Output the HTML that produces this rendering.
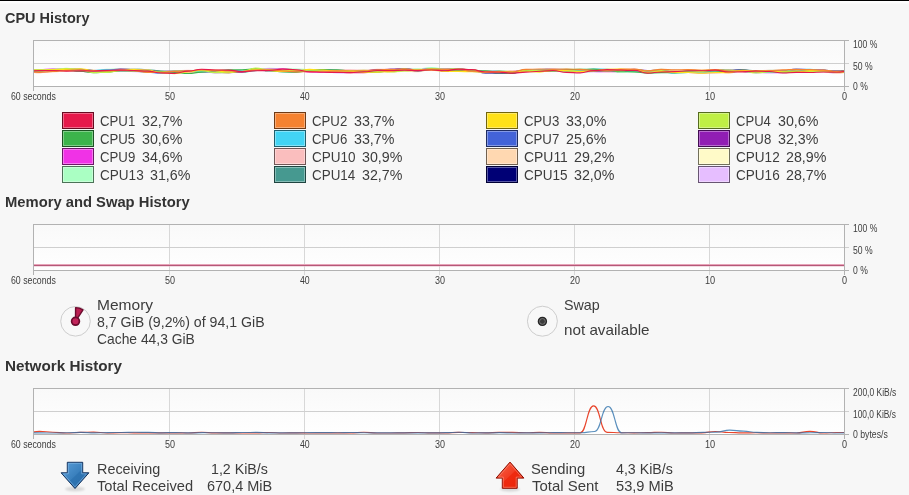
<!DOCTYPE html>
<html><head><meta charset="utf-8"><title>System Monitor</title>
<style>
html,body{margin:0;padding:0}
body{width:909px;height:495px;background:#f7f7f7;position:relative;overflow:hidden;font-family:"Liberation Sans", sans-serif;color:#3b3b3b}
div{box-sizing:border-box}
.x,.sw,.gbg,.hl,.vl{position:absolute;white-space:nowrap}
.x{line-height:20px;transform-origin:0 0}
#tx{position:absolute;left:0;top:0;width:909px;height:495px;will-change:transform}
.h{font-weight:bold;font-size:14.4px;color:#333}
.t{font-size:14.4px;color:#3d3d3d}
.s{font-size:10.0px;color:#3d3d3d}
.topbar{position:absolute;left:0;top:0;width:909px;height:1px;background:#000}
.topw{position:absolute;left:0;top:1px;width:909px;height:3px;background:linear-gradient(#fff,#fff 34%,#fbfbfb 66%,#f8f8f8)}
.sw{width:32px;height:17px;border:1px solid #55545a;box-shadow:inset 0 0 0 1px rgba(255,255,255,.35)}
.gbg{background:linear-gradient(#f9f9f9,#ffffff)}
.hl{height:1px;background:#b2b2b2}
.vl{width:1px;background:#b2b2b2}
.vl.in{background:#d8d8d8}
.hl.in{background:#cfcfcf}
svg{position:absolute;left:0;top:0}
svg path.l,g.l path{fill:none;stroke-width:1.15;stroke-linejoin:round;stroke-linecap:butt}
</style></head><body>
<div class="topbar"></div><div class="topw"></div>
<div class="gbg" style="left:33px;top:40px;width:812px;height:47px"></div>
<div class="vl in" style="left:169px;top:40px;height:51px"></div>
<div class="vl in" style="left:304px;top:40px;height:51px"></div>
<div class="vl in" style="left:439px;top:40px;height:51px"></div>
<div class="vl in" style="left:574px;top:40px;height:51px"></div>
<div class="vl in" style="left:709px;top:40px;height:51px"></div>
<div class="hl in" style="left:33px;top:63px;width:816px"></div>
<div class="hl" style="left:33px;top:40px;width:816px"></div>
<div class="hl" style="left:33px;top:86px;width:816px"></div>
<div class="vl" style="left:33px;top:40px;height:51px"></div>
<div class="vl" style="left:844px;top:40px;height:51px"></div>
<div class="gbg" style="left:33px;top:224px;width:812px;height:47px"></div>
<div class="vl in" style="left:169px;top:224px;height:51px"></div>
<div class="vl in" style="left:304px;top:224px;height:51px"></div>
<div class="vl in" style="left:439px;top:224px;height:51px"></div>
<div class="vl in" style="left:574px;top:224px;height:51px"></div>
<div class="vl in" style="left:709px;top:224px;height:51px"></div>
<div class="hl in" style="left:33px;top:247px;width:816px"></div>
<div class="hl" style="left:33px;top:224px;width:816px"></div>
<div class="hl" style="left:33px;top:270px;width:816px"></div>
<div class="vl" style="left:33px;top:224px;height:51px"></div>
<div class="vl" style="left:844px;top:224px;height:51px"></div>
<div class="gbg" style="left:33px;top:388px;width:812px;height:47px"></div>
<div class="vl in" style="left:169px;top:388px;height:51px"></div>
<div class="vl in" style="left:304px;top:388px;height:51px"></div>
<div class="vl in" style="left:439px;top:388px;height:51px"></div>
<div class="vl in" style="left:574px;top:388px;height:51px"></div>
<div class="vl in" style="left:709px;top:388px;height:51px"></div>
<div class="hl in" style="left:33px;top:411px;width:816px"></div>
<div class="hl" style="left:33px;top:388px;width:816px"></div>
<div class="hl" style="left:33px;top:434px;width:816px"></div>
<div class="vl" style="left:33px;top:388px;height:51px"></div>
<div class="vl" style="left:844px;top:388px;height:51px"></div>
<div class="sw" style="left:62px;top:112px;background:#e6194b;border-color:#670b21"></div>
<div class="sw" style="left:274px;top:112px;background:#f58231;border-color:#6e3a16"></div>
<div class="sw" style="left:486px;top:112px;background:#ffe119;border-color:#72650b"></div>
<div class="sw" style="left:698px;top:112px;background:#bfef45;border-color:#556b1f"></div>
<div class="sw" style="left:62px;top:130px;background:#3cb44b;border-color:#1b5121"></div>
<div class="sw" style="left:274px;top:130px;background:#42d4f4;border-color:#1d5f6d"></div>
<div class="sw" style="left:486px;top:130px;background:#4363d8;border-color:#1e2c61"></div>
<div class="sw" style="left:698px;top:130px;background:#911eb4;border-color:#410d51"></div>
<div class="sw" style="left:62px;top:148px;background:#f032e6;border-color:#6c1667"></div>
<div class="sw" style="left:274px;top:148px;background:#fabebe;border-color:#705555"></div>
<div class="sw" style="left:486px;top:148px;background:#ffd8b1;border-color:#72614f"></div>
<div class="sw" style="left:698px;top:148px;background:#fffac8;border-color:#72705a"></div>
<div class="sw" style="left:62px;top:166px;background:#aaffc3;border-color:#4c7257"></div>
<div class="sw" style="left:274px;top:166px;background:#469990;border-color:#1f4440"></div>
<div class="sw" style="left:486px;top:166px;background:#000075;border-color:#000034"></div>
<div class="sw" style="left:698px;top:166px;background:#e6beff;border-color:#675572"></div>
<div id="tx">
<div class="x h" style="left:5.04px;top:7.80px;transform:scaleX(1.0058)">CPU History</div>
<div class="x h" style="left:4.75px;top:192.00px;transform:scaleX(1.0260)">Memory and Swap History</div>
<div class="x h" style="left:4.72px;top:356.00px;transform:scaleX(1.0600)">Network History</div>
<div class="x t" style="left:99.90px;top:110.82px;transform:scaleX(0.9178)">CPU1</div>
<div class="x t" style="left:141.79px;top:110.82px;transform:scaleX(0.9891)">32,7%</div>
<div class="x t" style="left:311.90px;top:110.82px;transform:scaleX(0.9178)">CPU2</div>
<div class="x t" style="left:353.79px;top:110.82px;transform:scaleX(0.9891)">33,7%</div>
<div class="x t" style="left:523.90px;top:110.82px;transform:scaleX(0.9176)">CPU3</div>
<div class="x t" style="left:565.79px;top:110.82px;transform:scaleX(0.9891)">33,0%</div>
<div class="x t" style="left:735.91px;top:110.82px;transform:scaleX(0.9079)">CPU4</div>
<div class="x t" style="left:777.79px;top:110.82px;transform:scaleX(0.9891)">30,6%</div>
<div class="x t" style="left:99.90px;top:128.82px;transform:scaleX(0.9169)">CPU5</div>
<div class="x t" style="left:141.79px;top:128.82px;transform:scaleX(0.9891)">30,6%</div>
<div class="x t" style="left:311.90px;top:128.82px;transform:scaleX(0.9177)">CPU6</div>
<div class="x t" style="left:353.79px;top:128.82px;transform:scaleX(0.9891)">33,7%</div>
<div class="x t" style="left:523.90px;top:128.82px;transform:scaleX(0.9178)">CPU7</div>
<div class="x t" style="left:565.79px;top:128.82px;transform:scaleX(0.9890)">25,6%</div>
<div class="x t" style="left:735.90px;top:128.82px;transform:scaleX(0.9176)">CPU8</div>
<div class="x t" style="left:777.79px;top:128.82px;transform:scaleX(0.9891)">32,3%</div>
<div class="x t" style="left:99.90px;top:146.82px;transform:scaleX(0.9175)">CPU9</div>
<div class="x t" style="left:141.79px;top:146.82px;transform:scaleX(0.9891)">34,6%</div>
<div class="x t" style="left:311.88px;top:146.82px;transform:scaleX(0.9407)">CPU10</div>
<div class="x t" style="left:362.09px;top:146.82px;transform:scaleX(0.9891)">30,9%</div>
<div class="x t" style="left:523.86px;top:146.82px;transform:scaleX(0.9670)">CPU11</div>
<div class="x t" style="left:574.09px;top:146.82px;transform:scaleX(0.9890)">29,2%</div>
<div class="x t" style="left:735.88px;top:146.82px;transform:scaleX(0.9412)">CPU12</div>
<div class="x t" style="left:786.09px;top:146.82px;transform:scaleX(0.9890)">28,9%</div>
<div class="x t" style="left:99.88px;top:164.82px;transform:scaleX(0.9411)">CPU13</div>
<div class="x t" style="left:150.09px;top:164.82px;transform:scaleX(0.9891)">31,6%</div>
<div class="x t" style="left:311.89px;top:164.82px;transform:scaleX(0.9329)">CPU14</div>
<div class="x t" style="left:362.09px;top:164.82px;transform:scaleX(0.9891)">32,7%</div>
<div class="x t" style="left:523.88px;top:164.82px;transform:scaleX(0.9405)">CPU15</div>
<div class="x t" style="left:574.09px;top:164.82px;transform:scaleX(0.9891)">32,0%</div>
<div class="x t" style="left:735.88px;top:164.82px;transform:scaleX(0.9412)">CPU16</div>
<div class="x t" style="left:786.09px;top:164.82px;transform:scaleX(0.9890)">28,7%</div>
<div class="x t" style="left:97.23px;top:295.12px;transform:scaleX(1.0793)">Memory</div>
<div class="x t" style="left:97.03px;top:312.32px;transform:scaleX(0.9838)">8,7 GiB (9,2%) of 94,1 GiB</div>
<div class="x t" style="left:96.96px;top:329.22px;transform:scaleX(0.9627)">Cache 44,3 GiB</div>
<div class="x t" style="left:563.96px;top:295.12px;transform:scaleX(0.9942)">Swap</div>
<div class="x t" style="left:563.61px;top:320.02px;transform:scaleX(1.0583)">not available</div>
<div class="x t" style="left:96.63px;top:458.72px;transform:scaleX(0.9996)">Receiving</div>
<div class="x t" style="left:97.11px;top:476.22px;transform:scaleX(1.0179)">Total Received</div>
<div class="x t" style="left:211.12px;top:458.72px;transform:scaleX(0.9882)">1,2 KiB/s</div>
<div class="x t" style="left:206.75px;top:476.22px;transform:scaleX(1.0072)">670,4 MiB</div>
<div class="x t" style="left:531.32px;top:458.72px;transform:scaleX(1.0285)">Sending</div>
<div class="x t" style="left:531.90px;top:476.22px;transform:scaleX(1.0390)">Total Sent</div>
<div class="x t" style="left:616.42px;top:458.72px;transform:scaleX(0.9882)">4,3 KiB/s</div>
<div class="x t" style="left:615.96px;top:476.22px;transform:scaleX(1.0152)">53,9 MiB</div>
<div class="x s" style="left:11.39px;top:87.32px;transform:scaleX(0.8764)">60 seconds</div>
<div class="x s" style="left:164.82px;top:87.32px;transform:scaleX(0.9011)">50</div>
<div class="x s" style="left:300.12px;top:87.32px;transform:scaleX(0.8730)">40</div>
<div class="x s" style="left:434.85px;top:87.32px;transform:scaleX(0.8986)">30</div>
<div class="x s" style="left:569.89px;top:87.32px;transform:scaleX(0.8951)">20</div>
<div class="x s" style="left:704.64px;top:87.32px;transform:scaleX(0.9187)">10</div>
<div class="x s" style="left:841.84px;top:87.32px;transform:scaleX(0.9062)">0</div>
<div class="x s" style="left:11.39px;top:271.32px;transform:scaleX(0.8764)">60 seconds</div>
<div class="x s" style="left:164.82px;top:271.32px;transform:scaleX(0.9011)">50</div>
<div class="x s" style="left:300.12px;top:271.32px;transform:scaleX(0.8730)">40</div>
<div class="x s" style="left:434.85px;top:271.32px;transform:scaleX(0.8986)">30</div>
<div class="x s" style="left:569.89px;top:271.32px;transform:scaleX(0.8951)">20</div>
<div class="x s" style="left:704.64px;top:271.32px;transform:scaleX(0.9187)">10</div>
<div class="x s" style="left:841.84px;top:271.32px;transform:scaleX(0.9062)">0</div>
<div class="x s" style="left:11.39px;top:435.32px;transform:scaleX(0.8764)">60 seconds</div>
<div class="x s" style="left:164.82px;top:435.32px;transform:scaleX(0.9011)">50</div>
<div class="x s" style="left:300.12px;top:435.32px;transform:scaleX(0.8730)">40</div>
<div class="x s" style="left:434.85px;top:435.32px;transform:scaleX(0.8986)">30</div>
<div class="x s" style="left:569.89px;top:435.32px;transform:scaleX(0.8951)">20</div>
<div class="x s" style="left:704.64px;top:435.32px;transform:scaleX(0.9187)">10</div>
<div class="x s" style="left:841.84px;top:435.32px;transform:scaleX(0.9062)">0</div>
<div class="x s" style="left:852.69px;top:35.22px;transform:scaleX(0.8594)">100 %</div>
<div class="x s" style="left:852.65px;top:57.32px;transform:scaleX(0.8604)">50 %</div>
<div class="x s" style="left:852.76px;top:77.32px;transform:scaleX(0.8577)">0 %</div>
<div class="x s" style="left:852.69px;top:219.22px;transform:scaleX(0.8594)">100 %</div>
<div class="x s" style="left:852.65px;top:241.32px;transform:scaleX(0.8604)">50 %</div>
<div class="x s" style="left:852.76px;top:261.32px;transform:scaleX(0.8577)">0 %</div>
<div class="x s" style="left:852.72px;top:383.22px;transform:scaleX(0.8463)">200,0 KiB/s</div>
<div class="x s" style="left:853.10px;top:405.32px;transform:scaleX(0.8386)">100,0 KiB/s</div>
<div class="x s" style="left:852.76px;top:425.32px;transform:scaleX(0.8702)">0 bytes/s</div>
</div>
<svg width="909" height="495" viewBox="0 0 909 495">
<defs>
<filter id="bl" x="-50%" y="-200%" width="200%" height="500%"><feGaussianBlur stdDeviation="1.2"/></filter>
<linearGradient id="gb" x1="0" y1="0" x2="1" y2="1"><stop offset="0" stop-color="#5b9fda"/><stop offset=".5" stop-color="#3a80bd"/><stop offset=".52" stop-color="#2f75b3"/><stop offset="1" stop-color="#2b6ca8"/></linearGradient>
<linearGradient id="gr" x1="0" y1="0" x2="1" y2="1"><stop offset="0" stop-color="#f8674e"/><stop offset=".5" stop-color="#f23c22"/><stop offset=".52" stop-color="#ef2a0f"/><stop offset="1" stop-color="#ea2408"/></linearGradient>
<clipPath id="c1"><rect x="34" y="41" width="810" height="45"/></clipPath>
<clipPath id="c3"><rect x="34" y="389" width="810" height="46"/></clipPath>
</defs>
<g class="l" clip-path="url(#c1)">
<path d="M12.4 70.56C19.1 70.56 19.1 71.44 25.9 71.44C32.6 71.44 32.6 71.55 39.4 71.55C46.2 71.55 46.2 70.64 52.9 70.64C59.7 70.64 59.7 69.85 66.4 69.85C73.2 69.85 73.2 69.55 79.9 69.55C86.7 69.55 86.7 70.26 93.5 70.26C100.2 70.26 100.2 70.41 107.0 70.41C113.7 70.41 113.7 70.90 120.5 70.90C127.3 70.90 127.3 71.58 134.0 71.58C140.8 71.58 140.8 72.28 147.5 72.28C154.3 72.28 154.3 73.33 161.0 73.33C167.8 73.33 167.8 73.24 174.6 73.24C181.3 73.24 181.3 72.65 188.1 72.65C194.8 72.65 194.8 71.62 201.6 71.62C208.4 71.62 208.4 72.95 215.1 72.95C221.9 72.95 221.9 73.11 228.6 73.11C235.4 73.11 235.4 71.49 242.1 71.49C248.9 71.49 248.9 69.74 255.7 69.74C262.4 69.74 262.4 71.22 269.2 71.22C275.9 71.22 275.9 71.49 282.7 71.49C289.5 71.49 289.5 71.78 296.2 71.78C303.0 71.78 303.0 71.19 309.7 71.19C316.5 71.19 316.5 70.91 323.2 70.91C330.0 70.91 330.0 72.81 336.8 72.81C343.5 72.81 343.5 73.33 350.3 73.33C357.0 73.33 357.0 72.60 363.8 72.60C370.6 72.60 370.6 71.16 377.3 71.16C384.1 71.16 384.1 70.36 390.8 70.36C397.6 70.36 397.6 68.90 404.3 68.90C411.1 68.90 411.1 70.04 417.9 70.04C424.6 70.04 424.6 69.95 431.4 69.95C438.1 69.95 438.1 71.18 444.9 71.18C451.7 71.18 451.7 70.63 458.4 70.63C465.2 70.63 465.2 71.20 471.9 71.20C478.7 71.20 478.7 72.72 485.4 72.72C492.2 72.72 492.2 72.42 499.0 72.42C505.7 72.42 505.7 73.27 512.5 73.27C519.2 73.27 519.2 71.48 526.0 71.48C532.8 71.48 532.8 69.90 539.5 69.90C546.3 69.90 546.3 68.57 553.0 68.57C559.8 68.57 559.8 69.60 566.5 69.60C573.3 69.60 573.3 71.17 580.1 71.17C586.8 71.17 586.8 71.89 593.6 71.89C600.3 71.89 600.3 71.48 607.1 71.48C613.9 71.48 613.9 70.31 620.6 70.31C627.4 70.31 627.4 70.02 634.1 70.02C640.9 70.02 640.9 71.87 647.6 71.87C654.4 71.87 654.4 70.24 661.2 70.24C667.9 70.24 667.9 70.04 674.7 70.04C681.4 70.04 681.4 71.38 688.2 71.38C695.0 71.38 695.0 73.14 701.7 73.14C708.5 73.14 708.5 72.10 715.2 72.10C722.0 72.10 722.0 70.81 728.8 70.81C735.5 70.81 735.5 70.27 742.3 70.27C749.0 70.27 749.0 72.54 755.8 72.54C762.5 72.54 762.5 73.19 769.3 73.19C776.1 73.19 776.1 72.98 782.8 72.98C789.6 72.98 789.6 71.53 796.3 71.53C803.1 71.53 803.1 71.96 809.9 71.96C816.6 71.96 816.6 72.02 823.4 72.02C830.1 72.02 830.1 73.15 836.9 73.15C843.6 73.15 843.6 71.43 850.4 71.43C857.2 71.43 857.2 70.34 863.9 70.34" stroke="#e6beff"/>
<path d="M12.4 70.67C19.1 70.67 19.1 71.67 25.9 71.67C32.6 71.67 32.6 71.99 39.4 71.99C46.2 71.99 46.2 70.15 52.9 70.15C59.7 70.15 59.7 68.94 66.4 68.94C73.2 68.94 73.2 69.39 79.9 69.39C86.7 69.39 86.7 70.49 93.5 70.49C100.2 70.49 100.2 70.45 107.0 70.45C113.7 70.45 113.7 70.21 120.5 70.21C127.3 70.21 127.3 70.10 134.0 70.10C140.8 70.10 140.8 71.16 147.5 71.16C154.3 71.16 154.3 72.14 161.0 72.14C167.8 72.14 167.8 71.86 174.6 71.86C181.3 71.86 181.3 71.91 188.1 71.91C194.8 71.91 194.8 71.64 201.6 71.64C208.4 71.64 208.4 72.33 215.1 72.33C221.9 72.33 221.9 71.45 228.6 71.45C235.4 71.45 235.4 70.56 242.1 70.56C248.9 70.56 248.9 69.13 255.7 69.13C262.4 69.13 262.4 70.78 269.2 70.78C275.9 70.78 275.9 71.20 282.7 71.20C289.5 71.20 289.5 70.85 296.2 70.85C303.0 70.85 303.0 69.73 309.7 69.73C316.5 69.73 316.5 69.74 323.2 69.74C330.0 69.74 330.0 70.88 336.8 70.88C343.5 70.88 343.5 72.53 350.3 72.53C357.0 72.53 357.0 72.50 363.8 72.50C370.6 72.50 370.6 71.15 377.3 71.15C384.1 71.15 384.1 69.40 390.8 69.40C397.6 69.40 397.6 68.67 404.3 68.67C411.1 68.67 411.1 70.60 417.9 70.60C424.6 70.60 424.6 69.40 431.4 69.40C438.1 69.40 438.1 69.06 444.9 69.06C451.7 69.06 451.7 68.79 458.4 68.79C465.2 68.79 465.2 70.48 471.9 70.48C478.7 70.48 478.7 72.83 485.4 72.83C492.2 72.83 492.2 73.16 499.0 73.16C505.7 73.16 505.7 73.30 512.5 73.30C519.2 73.30 519.2 69.79 526.0 69.79C532.8 69.79 532.8 69.45 539.5 69.45C546.3 69.45 546.3 69.37 553.0 69.37C559.8 69.37 559.8 69.93 566.5 69.93C573.3 69.93 573.3 70.31 580.1 70.31C586.8 70.31 586.8 69.97 593.6 69.97C600.3 69.97 600.3 69.56 607.1 69.56C613.9 69.56 613.9 71.45 620.6 71.45C627.4 71.45 627.4 71.04 634.1 71.04C640.9 71.04 640.9 70.57 647.6 70.57C654.4 70.57 654.4 70.05 661.2 70.05C667.9 70.05 667.9 72.06 674.7 72.06C681.4 72.06 681.4 71.40 688.2 71.40C695.0 71.40 695.0 70.74 701.7 70.74C708.5 70.74 708.5 69.96 715.2 69.96C722.0 69.96 722.0 70.41 728.8 70.41C735.5 70.41 735.5 69.92 742.3 69.92C749.0 69.92 749.0 71.16 755.8 71.16C762.5 71.16 762.5 72.39 769.3 72.39C776.1 72.39 776.1 72.51 782.8 72.51C789.6 72.51 789.6 71.59 796.3 71.59C803.1 71.59 803.1 71.35 809.9 71.35C816.6 71.35 816.6 70.43 823.4 70.43C830.1 70.43 830.1 71.16 836.9 71.16C843.6 71.16 843.6 70.60 850.4 70.60C857.2 70.60 857.2 70.20 863.9 70.20" stroke="#000075"/>
<path d="M12.4 68.87C19.1 68.87 19.1 71.18 25.9 71.18C32.6 71.18 32.6 71.99 39.4 71.99C46.2 71.99 46.2 71.22 52.9 71.22C59.7 71.22 59.7 70.74 66.4 70.74C73.2 70.74 73.2 70.69 79.9 70.69C86.7 70.69 86.7 70.95 93.5 70.95C100.2 70.95 100.2 70.55 107.0 70.55C113.7 70.55 113.7 69.43 120.5 69.43C127.3 69.43 127.3 68.99 134.0 68.99C140.8 68.99 140.8 69.75 147.5 69.75C154.3 69.75 154.3 71.02 161.0 71.02C167.8 71.02 167.8 71.58 174.6 71.58C181.3 71.58 181.3 71.74 188.1 71.74C194.8 71.74 194.8 71.15 201.6 71.15C208.4 71.15 208.4 72.59 215.1 72.59C221.9 72.59 221.9 72.43 228.6 72.43C235.4 72.43 235.4 72.27 242.1 72.27C248.9 72.27 248.9 70.55 255.7 70.55C262.4 70.55 262.4 68.99 269.2 68.99C275.9 68.99 275.9 69.40 282.7 69.40C289.5 69.40 289.5 70.31 296.2 70.31C303.0 70.31 303.0 70.77 309.7 70.77C316.5 70.77 316.5 71.52 323.2 71.52C330.0 71.52 330.0 72.01 336.8 72.01C343.5 72.01 343.5 72.53 350.3 72.53C357.0 72.53 357.0 71.81 363.8 71.81C370.6 71.81 370.6 69.58 377.3 69.58C384.1 69.58 384.1 69.91 390.8 69.91C397.6 69.91 397.6 69.05 404.3 69.05C411.1 69.05 411.1 69.40 417.9 69.40C424.6 69.40 424.6 68.99 431.4 68.99C438.1 68.99 438.1 70.70 444.9 70.70C451.7 70.70 451.7 70.59 458.4 70.59C465.2 70.59 465.2 70.95 471.9 70.95C478.7 70.95 478.7 71.03 485.4 71.03C492.2 71.03 492.2 71.36 499.0 71.36C505.7 71.36 505.7 71.64 512.5 71.64C519.2 71.64 519.2 69.77 526.0 69.77C532.8 69.77 532.8 70.51 539.5 70.51C546.3 70.51 546.3 69.98 553.0 69.98C559.8 69.98 559.8 70.83 566.5 70.83C573.3 70.83 573.3 71.73 580.1 71.73C586.8 71.73 586.8 71.44 593.6 71.44C600.3 71.44 600.3 69.89 607.1 69.89C613.9 69.89 613.9 69.65 620.6 69.65C627.4 69.65 627.4 69.87 634.1 69.87C640.9 69.87 640.9 72.33 647.6 72.33C654.4 72.33 654.4 71.85 661.2 71.85C667.9 71.85 667.9 71.98 674.7 71.98C681.4 71.98 681.4 70.95 688.2 70.95C695.0 70.95 695.0 71.67 701.7 71.67C708.5 71.67 708.5 70.98 715.2 70.98C722.0 70.98 722.0 71.10 728.8 71.10C735.5 71.10 735.5 70.06 742.3 70.06C749.0 70.06 749.0 70.76 755.8 70.76C762.5 70.76 762.5 71.14 769.3 71.14C776.1 71.14 776.1 72.51 782.8 72.51C789.6 72.51 789.6 71.59 796.3 71.59C803.1 71.59 803.1 70.92 809.9 70.92C816.6 70.92 816.6 70.78 823.4 70.78C830.1 70.78 830.1 72.09 836.9 72.09C843.6 72.09 843.6 71.55 850.4 71.55C857.2 71.55 857.2 70.51 863.9 70.51" stroke="#469990"/>
<path d="M12.4 70.07C19.1 70.07 19.1 70.76 25.9 70.76C32.6 70.76 32.6 70.33 39.4 70.33C46.2 70.33 46.2 69.12 52.9 69.12C59.7 69.12 59.7 68.44 66.4 68.44C73.2 68.44 73.2 69.44 79.9 69.44C86.7 69.44 86.7 70.88 93.5 70.88C100.2 70.88 100.2 69.27 107.0 69.27C113.7 69.27 113.7 68.84 120.5 68.84C127.3 68.84 127.3 69.12 134.0 69.12C140.8 69.12 140.8 70.00 147.5 70.00C154.3 70.00 154.3 72.17 161.0 72.17C167.8 72.17 167.8 72.97 174.6 72.97C181.3 72.97 181.3 72.18 188.1 72.18C194.8 72.18 194.8 70.68 201.6 70.68C208.4 70.68 208.4 71.13 215.1 71.13C221.9 71.13 221.9 71.61 228.6 71.61C235.4 71.61 235.4 71.89 242.1 71.89C248.9 71.89 248.9 69.32 255.7 69.32C262.4 69.32 262.4 68.43 269.2 68.43C275.9 68.43 275.9 68.60 282.7 68.60C289.5 68.60 289.5 68.95 296.2 68.95C303.0 68.95 303.0 69.52 309.7 69.52C316.5 69.52 316.5 71.12 323.2 71.12C330.0 71.12 330.0 71.67 336.8 71.67C343.5 71.67 343.5 72.07 350.3 72.07C357.0 72.07 357.0 72.41 363.8 72.41C370.6 72.41 370.6 70.74 377.3 70.74C384.1 70.74 384.1 70.93 390.8 70.93C397.6 70.93 397.6 69.91 404.3 69.91C411.1 69.91 411.1 68.86 417.9 68.86C424.6 68.86 424.6 67.62 431.4 67.62C438.1 67.62 438.1 69.03 444.9 69.03C451.7 69.03 451.7 70.51 458.4 70.51C465.2 70.51 465.2 71.33 471.9 71.33C478.7 71.33 478.7 71.80 485.4 71.80C492.2 71.80 492.2 72.51 499.0 72.51C505.7 72.51 505.7 72.47 512.5 72.47C519.2 72.47 519.2 69.84 526.0 69.84C532.8 69.84 532.8 69.69 539.5 69.69C546.3 69.69 546.3 69.21 553.0 69.21C559.8 69.21 559.8 69.13 566.5 69.13C573.3 69.13 573.3 69.42 580.1 69.42C586.8 69.42 586.8 69.75 593.6 69.75C600.3 69.75 600.3 71.13 607.1 71.13C613.9 71.13 613.9 72.25 620.6 72.25C627.4 72.25 627.4 71.84 634.1 71.84C640.9 71.84 640.9 71.52 647.6 71.52C654.4 71.52 654.4 69.38 661.2 69.38C667.9 69.38 667.9 70.40 674.7 70.40C681.4 70.40 681.4 70.61 688.2 70.61C695.0 70.61 695.0 72.83 701.7 72.83C708.5 72.83 708.5 71.73 715.2 71.73C722.0 71.73 722.0 71.27 728.8 71.27C735.5 71.27 735.5 71.47 742.3 71.47C749.0 71.47 749.0 71.83 755.8 71.83C762.5 71.83 762.5 70.25 769.3 70.25C776.1 70.25 776.1 70.57 782.8 70.57C789.6 70.57 789.6 70.33 796.3 70.33C803.1 70.33 803.1 70.74 809.9 70.74C816.6 70.74 816.6 70.90 823.4 70.90C830.1 70.90 830.1 71.85 836.9 71.85C843.6 71.85 843.6 71.31 850.4 71.31C857.2 71.31 857.2 70.52 863.9 70.52" stroke="#aaffc3"/>
<path d="M12.4 69.30C19.1 69.30 19.1 71.74 25.9 71.74C32.6 71.74 32.6 72.03 39.4 72.03C46.2 72.03 46.2 70.23 52.9 70.23C59.7 70.23 59.7 68.72 66.4 68.72C73.2 68.72 73.2 69.89 79.9 69.89C86.7 69.89 86.7 71.50 93.5 71.50C100.2 71.50 100.2 70.54 107.0 70.54C113.7 70.54 113.7 70.33 120.5 70.33C127.3 70.33 127.3 70.11 134.0 70.11C140.8 70.11 140.8 70.78 147.5 70.78C154.3 70.78 154.3 72.03 161.0 72.03C167.8 72.03 167.8 72.58 174.6 72.58C181.3 72.58 181.3 72.64 188.1 72.64C194.8 72.64 194.8 71.62 201.6 71.62C208.4 71.62 208.4 72.47 215.1 72.47C221.9 72.47 221.9 71.22 228.6 71.22C235.4 71.22 235.4 70.64 242.1 70.64C248.9 70.64 248.9 69.56 255.7 69.56C262.4 69.56 262.4 69.18 269.2 69.18C275.9 69.18 275.9 69.96 282.7 69.96C289.5 69.96 289.5 71.63 296.2 71.63C303.0 71.63 303.0 71.21 309.7 71.21C316.5 71.21 316.5 69.87 323.2 69.87C330.0 69.87 330.0 71.53 336.8 71.53C343.5 71.53 343.5 73.33 350.3 73.33C357.0 73.33 357.0 73.08 363.8 73.08C370.6 73.08 370.6 70.50 377.3 70.50C384.1 70.50 384.1 69.66 390.8 69.66C397.6 69.66 397.6 68.74 404.3 68.74C411.1 68.74 411.1 69.23 417.9 69.23C424.6 69.23 424.6 68.66 431.4 68.66C438.1 68.66 438.1 69.68 444.9 69.68C451.7 69.68 451.7 69.92 458.4 69.92C465.2 69.92 465.2 71.22 471.9 71.22C478.7 71.22 478.7 71.66 485.4 71.66C492.2 71.66 492.2 71.43 499.0 71.43C505.7 71.43 505.7 72.48 512.5 72.48C519.2 72.48 519.2 69.85 526.0 69.85C532.8 69.85 532.8 69.60 539.5 69.60C546.3 69.60 546.3 69.90 553.0 69.90C559.8 69.90 559.8 70.17 566.5 70.17C573.3 70.17 573.3 70.15 580.1 70.15C586.8 70.15 586.8 71.09 593.6 71.09C600.3 71.09 600.3 71.83 607.1 71.83C613.9 71.83 613.9 70.79 620.6 70.79C627.4 70.79 627.4 70.21 634.1 70.21C640.9 70.21 640.9 72.50 647.6 72.50C654.4 72.50 654.4 72.17 661.2 72.17C667.9 72.17 667.9 72.76 674.7 72.76C681.4 72.76 681.4 71.03 688.2 71.03C695.0 71.03 695.0 69.94 701.7 69.94C708.5 69.94 708.5 69.57 715.2 69.57C722.0 69.57 722.0 71.28 728.8 71.28C735.5 71.28 735.5 71.69 742.3 71.69C749.0 71.69 749.0 72.98 755.8 72.98C762.5 72.98 762.5 72.21 769.3 72.21C776.1 72.21 776.1 71.61 782.8 71.61C789.6 71.61 789.6 70.57 796.3 70.57C803.1 70.57 803.1 70.70 809.9 70.70C816.6 70.70 816.6 71.25 823.4 71.25C830.1 71.25 830.1 72.48 836.9 72.48C843.6 72.48 843.6 71.17 850.4 71.17C857.2 71.17 857.2 70.08 863.9 70.08" stroke="#fffac8"/>
<path d="M12.4 69.20C19.1 69.20 19.1 71.75 25.9 71.75C32.6 71.75 32.6 72.78 39.4 72.78C46.2 72.78 46.2 71.81 52.9 71.81C59.7 71.81 59.7 71.12 66.4 71.12C73.2 71.12 73.2 71.22 79.9 71.22C86.7 71.22 86.7 71.89 93.5 71.89C100.2 71.89 100.2 71.01 107.0 71.01C113.7 71.01 113.7 69.42 120.5 69.42C127.3 69.42 127.3 69.12 134.0 69.12C140.8 69.12 140.8 70.27 147.5 70.27C154.3 70.27 154.3 72.02 161.0 72.02C167.8 72.02 167.8 71.82 174.6 71.82C181.3 71.82 181.3 71.64 188.1 71.64C194.8 71.64 194.8 71.71 201.6 71.71C208.4 71.71 208.4 72.59 215.1 72.59C221.9 72.59 221.9 71.14 228.6 71.14C235.4 71.14 235.4 70.67 242.1 70.67C248.9 70.67 248.9 69.63 255.7 69.63C262.4 69.63 262.4 69.47 269.2 69.47C275.9 69.47 275.9 70.07 282.7 70.07C289.5 70.07 289.5 70.34 296.2 70.34C303.0 70.34 303.0 69.68 309.7 69.68C316.5 69.68 316.5 69.46 323.2 69.46C330.0 69.46 330.0 70.85 336.8 70.85C343.5 70.85 343.5 71.18 350.3 71.18C357.0 71.18 357.0 71.46 363.8 71.46C370.6 71.46 370.6 72.00 377.3 72.00C384.1 72.00 384.1 72.00 390.8 72.00C397.6 72.00 397.6 71.27 404.3 71.27C411.1 71.27 411.1 71.70 417.9 71.70C424.6 71.70 424.6 69.23 431.4 69.23C438.1 69.23 438.1 70.48 444.9 70.48C451.7 70.48 451.7 70.94 458.4 70.94C465.2 70.94 465.2 71.13 471.9 71.13C478.7 71.13 478.7 72.44 485.4 72.44C492.2 72.44 492.2 72.50 499.0 72.50C505.7 72.50 505.7 72.07 512.5 72.07C519.2 72.07 519.2 70.07 526.0 70.07C532.8 70.07 532.8 69.59 539.5 69.59C546.3 69.59 546.3 69.45 553.0 69.45C559.8 69.45 559.8 71.29 566.5 71.29C573.3 71.29 573.3 71.96 580.1 71.96C586.8 71.96 586.8 70.85 593.6 70.85C600.3 70.85 600.3 69.10 607.1 69.10C613.9 69.10 613.9 68.87 620.6 68.87C627.4 68.87 627.4 69.78 634.1 69.78C640.9 69.78 640.9 70.94 647.6 70.94C654.4 70.94 654.4 69.61 661.2 69.61C667.9 69.61 667.9 70.48 674.7 70.48C681.4 70.48 681.4 69.59 688.2 69.59C695.0 69.59 695.0 70.94 701.7 70.94C708.5 70.94 708.5 71.08 715.2 71.08C722.0 71.08 722.0 71.70 728.8 71.70C735.5 71.70 735.5 71.17 742.3 71.17C749.0 71.17 749.0 71.48 755.8 71.48C762.5 71.48 762.5 70.55 769.3 70.55C776.1 70.55 776.1 70.75 782.8 70.75C789.6 70.75 789.6 70.09 796.3 70.09C803.1 70.09 803.1 70.50 809.9 70.50C816.6 70.50 816.6 71.24 823.4 71.24C830.1 71.24 830.1 73.12 836.9 73.12C843.6 73.12 843.6 72.06 850.4 72.06C857.2 72.06 857.2 69.40 863.9 69.40" stroke="#ffd8b1"/>
<path d="M12.4 70.14C19.1 70.14 19.1 71.53 25.9 71.53C32.6 71.53 32.6 72.79 39.4 72.79C46.2 72.79 46.2 71.25 52.9 71.25C59.7 71.25 59.7 69.04 66.4 69.04C73.2 69.04 73.2 69.85 79.9 69.85C86.7 69.85 86.7 71.46 93.5 71.46C100.2 71.46 100.2 71.08 107.0 71.08C113.7 71.08 113.7 69.57 120.5 69.57C127.3 69.57 127.3 69.40 134.0 69.40C140.8 69.40 140.8 70.48 147.5 70.48C154.3 70.48 154.3 71.60 161.0 71.60C167.8 71.60 167.8 70.94 174.6 70.94C181.3 70.94 181.3 70.34 188.1 70.34C194.8 70.34 194.8 71.04 201.6 71.04C208.4 71.04 208.4 72.58 215.1 72.58C221.9 72.58 221.9 71.55 228.6 71.55C235.4 71.55 235.4 70.64 242.1 70.64C248.9 70.64 248.9 69.70 255.7 69.70C262.4 69.70 262.4 70.32 269.2 70.32C275.9 70.32 275.9 70.35 282.7 70.35C289.5 70.35 289.5 71.07 296.2 71.07C303.0 71.07 303.0 71.27 309.7 71.27C316.5 71.27 316.5 70.08 323.2 70.08C330.0 70.08 330.0 69.64 336.8 69.64C343.5 69.64 343.5 69.93 350.3 69.93C357.0 69.93 357.0 70.16 363.8 70.16C370.6 70.16 370.6 69.35 377.3 69.35C384.1 69.35 384.1 69.08 390.8 69.08C397.6 69.08 397.6 69.33 404.3 69.33C411.1 69.33 411.1 71.37 417.9 71.37C424.6 71.37 424.6 69.75 431.4 69.75C438.1 69.75 438.1 70.56 444.9 70.56C451.7 70.56 451.7 71.30 458.4 71.30C465.2 71.30 465.2 70.56 471.9 70.56C478.7 70.56 478.7 70.73 485.4 70.73C492.2 70.73 492.2 71.65 499.0 71.65C505.7 71.65 505.7 72.53 512.5 72.53C519.2 72.53 519.2 70.96 526.0 70.96C532.8 70.96 532.8 69.77 539.5 69.77C546.3 69.77 546.3 68.85 553.0 68.85C559.8 68.85 559.8 69.44 566.5 69.44C573.3 69.44 573.3 70.30 580.1 70.30C586.8 70.30 586.8 70.11 593.6 70.11C600.3 70.11 600.3 69.93 607.1 69.93C613.9 69.93 613.9 70.03 620.6 70.03C627.4 70.03 627.4 69.86 634.1 69.86C640.9 69.86 640.9 72.26 647.6 72.26C654.4 72.26 654.4 72.01 661.2 72.01C667.9 72.01 667.9 71.68 674.7 71.68C681.4 71.68 681.4 69.75 688.2 69.75C695.0 69.75 695.0 70.40 701.7 70.40C708.5 70.40 708.5 71.52 715.2 71.52C722.0 71.52 722.0 73.01 728.8 73.01C735.5 73.01 735.5 71.03 742.3 71.03C749.0 71.03 749.0 70.67 755.8 70.67C762.5 70.67 762.5 70.32 769.3 70.32C776.1 70.32 776.1 70.20 782.8 70.20C789.6 70.20 789.6 69.50 796.3 69.50C803.1 69.50 803.1 70.76 809.9 70.76C816.6 70.76 816.6 71.93 823.4 71.93C830.1 71.93 830.1 72.31 836.9 72.31C843.6 72.31 843.6 70.54 850.4 70.54C857.2 70.54 857.2 69.40 863.9 69.40" stroke="#fabebe"/>
<path d="M12.4 69.99C19.1 69.99 19.1 70.40 25.9 70.40C32.6 70.40 32.6 69.77 39.4 69.77C46.2 69.77 46.2 69.05 52.9 69.05C59.7 69.05 59.7 69.78 66.4 69.78C73.2 69.78 73.2 71.26 79.9 71.26C86.7 71.26 86.7 72.28 93.5 72.28C100.2 72.28 100.2 71.12 107.0 71.12C113.7 71.12 113.7 70.00 120.5 70.00C127.3 70.00 127.3 70.02 134.0 70.02C140.8 70.02 140.8 71.50 147.5 71.50C154.3 71.50 154.3 73.19 161.0 73.19C167.8 73.19 167.8 71.80 174.6 71.80C181.3 71.80 181.3 71.55 188.1 71.55C194.8 71.55 194.8 71.72 201.6 71.72C208.4 71.72 208.4 72.41 215.1 72.41C221.9 72.41 221.9 72.58 228.6 72.58C235.4 72.58 235.4 71.88 242.1 71.88C248.9 71.88 248.9 69.67 255.7 69.67C262.4 69.67 262.4 69.17 269.2 69.17C275.9 69.17 275.9 68.78 282.7 68.78C289.5 68.78 289.5 70.20 296.2 70.20C303.0 70.20 303.0 72.16 309.7 72.16C316.5 72.16 316.5 72.10 323.2 72.10C330.0 72.10 330.0 72.12 336.8 72.12C343.5 72.12 343.5 72.76 350.3 72.76C357.0 72.76 357.0 72.71 363.8 72.71C370.6 72.71 370.6 71.37 377.3 71.37C384.1 71.37 384.1 70.38 390.8 70.38C397.6 70.38 397.6 69.65 404.3 69.65C411.1 69.65 411.1 70.85 417.9 70.85C424.6 70.85 424.6 68.93 431.4 68.93C438.1 68.93 438.1 68.75 444.9 68.75C451.7 68.75 451.7 68.87 458.4 68.87C465.2 68.87 465.2 70.16 471.9 70.16C478.7 70.16 478.7 71.96 485.4 71.96C492.2 71.96 492.2 71.56 499.0 71.56C505.7 71.56 505.7 71.37 512.5 71.37C519.2 71.37 519.2 70.38 526.0 70.38C532.8 70.38 532.8 71.41 539.5 71.41C546.3 71.41 546.3 70.83 553.0 70.83C559.8 70.83 559.8 70.94 566.5 70.94C573.3 70.94 573.3 71.29 580.1 71.29C586.8 71.29 586.8 71.42 593.6 71.42C600.3 71.42 600.3 71.75 607.1 71.75C613.9 71.75 613.9 71.37 620.6 71.37C627.4 71.37 627.4 69.83 634.1 69.83C640.9 69.83 640.9 71.90 647.6 71.90C654.4 71.90 654.4 71.30 661.2 71.30C667.9 71.30 667.9 72.20 674.7 72.20C681.4 72.20 681.4 72.44 688.2 72.44C695.0 72.44 695.0 72.80 701.7 72.80C708.5 72.80 708.5 72.56 715.2 72.56C722.0 72.56 722.0 72.36 728.8 72.36C735.5 72.36 735.5 70.54 742.3 70.54C749.0 70.54 749.0 71.93 755.8 71.93C762.5 71.93 762.5 72.18 769.3 72.18C776.1 72.18 776.1 70.97 782.8 70.97C789.6 70.97 789.6 68.99 796.3 68.99C803.1 68.99 803.1 69.63 809.9 69.63C816.6 69.63 816.6 70.26 823.4 70.26C830.1 70.26 830.1 71.71 836.9 71.71C843.6 71.71 843.6 72.41 850.4 72.41C857.2 72.41 857.2 71.46 863.9 71.46" stroke="#f032e6"/>
<path d="M12.4 69.23C19.1 69.23 19.1 70.13 25.9 70.13C32.6 70.13 32.6 70.19 39.4 70.19C46.2 70.19 46.2 69.49 52.9 69.49C59.7 69.49 59.7 69.75 66.4 69.75C73.2 69.75 73.2 70.38 79.9 70.38C86.7 70.38 86.7 71.07 93.5 71.07C100.2 71.07 100.2 70.14 107.0 70.14C113.7 70.14 113.7 69.17 120.5 69.17C127.3 69.17 127.3 69.55 134.0 69.55C140.8 69.55 140.8 70.33 147.5 70.33C154.3 70.33 154.3 71.52 161.0 71.52C167.8 71.52 167.8 71.25 174.6 71.25C181.3 71.25 181.3 71.16 188.1 71.16C194.8 71.16 194.8 70.54 201.6 70.54C208.4 70.54 208.4 71.69 215.1 71.69C221.9 71.69 221.9 72.50 228.6 72.50C235.4 72.50 235.4 72.17 242.1 72.17C248.9 72.17 248.9 69.38 255.7 69.38C262.4 69.38 262.4 69.84 269.2 69.84C275.9 69.84 275.9 71.20 282.7 71.20C289.5 71.20 289.5 71.55 296.2 71.55C303.0 71.55 303.0 70.82 309.7 70.82C316.5 70.82 316.5 69.74 323.2 69.74C330.0 69.74 330.0 70.46 336.8 70.46C343.5 70.46 343.5 71.75 350.3 71.75C357.0 71.75 357.0 71.01 363.8 71.01C370.6 71.01 370.6 69.58 377.3 69.58C384.1 69.58 384.1 69.40 390.8 69.40C397.6 69.40 397.6 68.67 404.3 68.67C411.1 68.67 411.1 69.82 417.9 69.82C424.6 69.82 424.6 68.84 431.4 68.84C438.1 68.84 438.1 70.71 444.9 70.71C451.7 70.71 451.7 70.59 458.4 70.59C465.2 70.59 465.2 71.35 471.9 71.35C478.7 71.35 478.7 71.87 485.4 71.87C492.2 71.87 492.2 72.20 499.0 72.20C505.7 72.20 505.7 72.68 512.5 72.68C519.2 72.68 519.2 70.74 526.0 70.74C532.8 70.74 532.8 70.99 539.5 70.99C546.3 70.99 546.3 70.27 553.0 70.27C559.8 70.27 559.8 70.34 566.5 70.34C573.3 70.34 573.3 70.69 580.1 70.69C586.8 70.69 586.8 71.11 593.6 71.11C600.3 71.11 600.3 71.36 607.1 71.36C613.9 71.36 613.9 71.12 620.6 71.12C627.4 71.12 627.4 69.24 634.1 69.24C640.9 69.24 640.9 70.53 647.6 70.53C654.4 70.53 654.4 70.47 661.2 70.47C667.9 70.47 667.9 72.05 674.7 72.05C681.4 72.05 681.4 71.54 688.2 71.54C695.0 71.54 695.0 72.17 701.7 72.17C708.5 72.17 708.5 70.46 715.2 70.46C722.0 70.46 722.0 70.41 728.8 70.41C735.5 70.41 735.5 70.59 742.3 70.59C749.0 70.59 749.0 72.17 755.8 72.17C762.5 72.17 762.5 71.51 769.3 71.51C776.1 71.51 776.1 70.82 782.8 70.82C789.6 70.82 789.6 70.07 796.3 70.07C803.1 70.07 803.1 70.03 809.9 70.03C816.6 70.03 816.6 70.27 823.4 70.27C830.1 70.27 830.1 72.15 836.9 72.15C843.6 72.15 843.6 71.56 850.4 71.56C857.2 71.56 857.2 70.23 863.9 70.23" stroke="#911eb4"/>
<path d="M12.4 68.87C19.1 68.87 19.1 69.87 25.9 69.87C32.6 69.87 32.6 70.19 39.4 70.19C46.2 70.19 46.2 70.96 52.9 70.96C59.7 70.96 59.7 69.41 66.4 69.41C73.2 69.41 73.2 69.39 79.9 69.39C86.7 69.39 86.7 70.48 93.5 70.48C100.2 70.48 100.2 71.46 107.0 71.46C113.7 71.46 113.7 70.97 120.5 70.97C127.3 70.97 127.3 70.79 134.0 70.79C140.8 70.79 140.8 71.40 147.5 71.40C154.3 71.40 154.3 71.83 161.0 71.83C167.8 71.83 167.8 71.15 174.6 71.15C181.3 71.15 181.3 70.96 188.1 70.96C194.8 70.96 194.8 70.30 201.6 70.30C208.4 70.30 208.4 71.00 215.1 71.00C221.9 71.00 221.9 71.25 228.6 71.25C235.4 71.25 235.4 71.21 242.1 71.21C248.9 71.21 248.9 70.32 255.7 70.32C262.4 70.32 262.4 70.78 269.2 70.78C275.9 70.78 275.9 71.20 282.7 71.20C289.5 71.20 289.5 71.14 296.2 71.14C303.0 71.14 303.0 70.02 309.7 70.02C316.5 70.02 316.5 69.74 323.2 69.74C330.0 69.74 330.0 70.68 336.8 70.68C343.5 70.68 343.5 71.66 350.3 71.66C357.0 71.66 357.0 71.45 363.8 71.45C370.6 71.45 370.6 70.98 377.3 70.98C384.1 70.98 384.1 70.61 390.8 70.61C397.6 70.61 397.6 69.63 404.3 69.63C411.1 69.63 411.1 69.75 417.9 69.75C424.6 69.75 424.6 68.96 431.4 68.96C438.1 68.96 438.1 70.71 444.9 70.71C451.7 70.71 451.7 69.83 458.4 69.83C465.2 69.83 465.2 70.56 471.9 70.56C478.7 70.56 478.7 71.92 485.4 71.92C492.2 71.92 492.2 72.00 499.0 72.00C505.7 72.00 505.7 71.88 512.5 71.88C519.2 71.88 519.2 70.18 526.0 70.18C532.8 70.18 532.8 71.25 539.5 71.25C546.3 71.25 546.3 71.17 553.0 71.17C559.8 71.17 559.8 70.85 566.5 70.85C573.3 70.85 573.3 71.17 580.1 71.17C586.8 71.17 586.8 71.38 593.6 71.38C600.3 71.38 600.3 70.55 607.1 70.55C613.9 70.55 613.9 70.60 620.6 70.60C627.4 70.60 627.4 69.99 634.1 69.99C640.9 69.99 640.9 71.77 647.6 71.77C654.4 71.77 654.4 71.85 661.2 71.85C667.9 71.85 667.9 72.52 674.7 72.52C681.4 72.52 681.4 71.07 688.2 71.07C695.0 71.07 695.0 70.88 701.7 70.88C708.5 70.88 708.5 70.58 715.2 70.58C722.0 70.58 722.0 70.95 728.8 70.95C735.5 70.95 735.5 71.54 742.3 71.54C749.0 71.54 749.0 72.56 755.8 72.56C762.5 72.56 762.5 72.28 769.3 72.28C776.1 72.28 776.1 71.80 782.8 71.80C789.6 71.80 789.6 71.47 796.3 71.47C803.1 71.47 803.1 70.87 809.9 70.87C816.6 70.87 816.6 70.01 823.4 70.01C830.1 70.01 830.1 71.78 836.9 71.78C843.6 71.78 843.6 72.34 850.4 72.34C857.2 72.34 857.2 71.25 863.9 71.25" stroke="#4363d8"/>
<path d="M12.4 69.79C19.1 69.79 19.1 69.97 25.9 69.97C32.6 69.97 32.6 69.51 39.4 69.51C46.2 69.51 46.2 69.47 52.9 69.47C59.7 69.47 59.7 70.01 66.4 70.01C73.2 70.01 73.2 70.51 79.9 70.51C86.7 70.51 86.7 70.59 93.5 70.59C100.2 70.59 100.2 69.59 107.0 69.59C113.7 69.59 113.7 70.51 120.5 70.51C127.3 70.51 127.3 71.21 134.0 71.21C140.8 71.21 140.8 72.12 147.5 72.12C154.3 72.12 154.3 73.11 161.0 73.11C167.8 73.11 167.8 71.95 174.6 71.95C181.3 71.95 181.3 71.28 188.1 71.28C194.8 71.28 194.8 71.58 201.6 71.58C208.4 71.58 208.4 72.49 215.1 72.49C221.9 72.49 221.9 70.81 228.6 70.81C235.4 70.81 235.4 70.37 242.1 70.37C248.9 70.37 248.9 69.27 255.7 69.27C262.4 69.27 262.4 70.56 269.2 70.56C275.9 70.56 275.9 71.50 282.7 71.50C289.5 71.50 289.5 70.50 296.2 70.50C303.0 70.50 303.0 69.55 309.7 69.55C316.5 69.55 316.5 70.15 323.2 70.15C330.0 70.15 330.0 70.38 336.8 70.38C343.5 70.38 343.5 70.66 350.3 70.66C357.0 70.66 357.0 71.57 363.8 71.57C370.6 71.57 370.6 70.62 377.3 70.62C384.1 70.62 384.1 70.19 390.8 70.19C397.6 70.19 397.6 69.18 404.3 69.18C411.1 69.18 411.1 70.19 417.9 70.19C424.6 70.19 424.6 68.96 431.4 68.96C438.1 68.96 438.1 69.65 444.9 69.65C451.7 69.65 451.7 69.14 458.4 69.14C465.2 69.14 465.2 70.75 471.9 70.75C478.7 70.75 478.7 71.58 485.4 71.58C492.2 71.58 492.2 70.86 499.0 70.86C505.7 70.86 505.7 71.94 512.5 71.94C519.2 71.94 519.2 70.30 526.0 70.30C532.8 70.30 532.8 69.54 539.5 69.54C546.3 69.54 546.3 69.65 553.0 69.65C559.8 69.65 559.8 70.80 566.5 70.80C573.3 70.80 573.3 70.03 580.1 70.03C586.8 70.03 586.8 69.17 593.6 69.17C600.3 69.17 600.3 69.23 607.1 69.23C613.9 69.23 613.9 70.83 620.6 70.83C627.4 70.83 627.4 70.86 634.1 70.86C640.9 70.86 640.9 72.07 647.6 72.07C654.4 72.07 654.4 71.65 661.2 71.65C667.9 71.65 667.9 73.32 674.7 73.32C681.4 73.32 681.4 72.38 688.2 72.38C695.0 72.38 695.0 72.32 701.7 72.32C708.5 72.32 708.5 72.12 715.2 72.12C722.0 72.12 722.0 72.44 728.8 72.44C735.5 72.44 735.5 71.02 742.3 71.02C749.0 71.02 749.0 71.58 755.8 71.58C762.5 71.58 762.5 72.21 769.3 72.21C776.1 72.21 776.1 71.64 782.8 71.64C789.6 71.64 789.6 69.02 796.3 69.02C803.1 69.02 803.1 69.43 809.9 69.43C816.6 69.43 816.6 70.92 823.4 70.92C830.1 70.92 830.1 72.33 836.9 72.33C843.6 72.33 843.6 71.95 850.4 71.95C857.2 71.95 857.2 71.91 863.9 71.91" stroke="#42d4f4"/>
<path d="M12.4 70.47C19.1 70.47 19.1 71.82 25.9 71.82C32.6 71.82 32.6 71.04 39.4 71.04C46.2 71.04 46.2 69.92 52.9 69.92C59.7 69.92 59.7 70.21 66.4 70.21C73.2 70.21 73.2 71.24 79.9 71.24C86.7 71.24 86.7 72.75 93.5 72.75C100.2 72.75 100.2 72.10 107.0 72.10C113.7 72.10 113.7 70.61 120.5 70.61C127.3 70.61 127.3 70.78 134.0 70.78C140.8 70.78 140.8 71.05 147.5 71.05C154.3 71.05 154.3 71.24 161.0 71.24C167.8 71.24 167.8 72.30 174.6 72.30C181.3 72.30 181.3 73.49 188.1 73.49C194.8 73.49 194.8 72.13 201.6 72.13C208.4 72.13 208.4 70.78 215.1 70.78C221.9 70.78 221.9 69.90 228.6 69.90C235.4 69.90 235.4 69.75 242.1 69.75C248.9 69.75 248.9 68.94 255.7 68.94C262.4 68.94 262.4 70.49 269.2 70.49C275.9 70.49 275.9 72.00 282.7 72.00C289.5 72.00 289.5 72.12 296.2 72.12C303.0 72.12 303.0 70.76 309.7 70.76C316.5 70.76 316.5 69.63 323.2 69.63C330.0 69.63 330.0 69.81 336.8 69.81C343.5 69.81 343.5 70.90 350.3 70.90C357.0 70.90 357.0 72.20 363.8 72.20C370.6 72.20 370.6 72.18 377.3 72.18C384.1 72.18 384.1 70.82 390.8 70.82C397.6 70.82 397.6 69.35 404.3 69.35C411.1 69.35 411.1 70.98 417.9 70.98C424.6 70.98 424.6 69.34 431.4 69.34C438.1 69.34 438.1 69.49 444.9 69.49C451.7 69.49 451.7 70.14 458.4 70.14C465.2 70.14 465.2 70.20 471.9 70.20C478.7 70.20 478.7 70.92 485.4 70.92C492.2 70.92 492.2 72.22 499.0 72.22C505.7 72.22 505.7 72.91 512.5 72.91C519.2 72.91 519.2 70.61 526.0 70.61C532.8 70.61 532.8 71.05 539.5 71.05C546.3 71.05 546.3 70.84 553.0 70.84C559.8 70.84 559.8 69.73 566.5 69.73C573.3 69.73 573.3 69.42 580.1 69.42C586.8 69.42 586.8 69.17 593.6 69.17C600.3 69.17 600.3 69.96 607.1 69.96C613.9 69.96 613.9 71.79 620.6 71.79C627.4 71.79 627.4 71.80 634.1 71.80C640.9 71.80 640.9 73.13 647.6 73.13C654.4 73.13 654.4 72.65 661.2 72.65C667.9 72.65 667.9 72.64 674.7 72.64C681.4 72.64 681.4 71.07 688.2 71.07C695.0 71.07 695.0 70.87 701.7 70.87C708.5 70.87 708.5 70.99 715.2 70.99C722.0 70.99 722.0 71.81 728.8 71.81C735.5 71.81 735.5 70.73 742.3 70.73C749.0 70.73 749.0 70.91 755.8 70.91C762.5 70.91 762.5 70.54 769.3 70.54C776.1 70.54 776.1 71.78 782.8 71.78C789.6 71.78 789.6 71.59 796.3 71.59C803.1 71.59 803.1 71.10 809.9 71.10C816.6 71.10 816.6 70.96 823.4 70.96C830.1 70.96 830.1 71.76 836.9 71.76C843.6 71.76 843.6 71.10 850.4 71.10C857.2 71.10 857.2 70.07 863.9 70.07" stroke="#3cb44b"/>
<path d="M12.4 70.11C19.1 70.11 19.1 70.84 25.9 70.84C32.6 70.84 32.6 71.04 39.4 71.04C46.2 71.04 46.2 69.56 52.9 69.56C59.7 69.56 59.7 68.62 66.4 68.62C73.2 68.62 73.2 69.99 79.9 69.99C86.7 69.99 86.7 72.60 93.5 72.60C100.2 72.60 100.2 72.31 107.0 72.31C113.7 72.31 113.7 70.63 120.5 70.63C127.3 70.63 127.3 70.65 134.0 70.65C140.8 70.65 140.8 71.64 147.5 71.64C154.3 71.64 154.3 71.95 161.0 71.95C167.8 71.95 167.8 71.11 174.6 71.11C181.3 71.11 181.3 71.17 188.1 71.17C194.8 71.17 194.8 70.75 201.6 70.75C208.4 70.75 208.4 72.52 215.1 72.52C221.9 72.52 221.9 72.82 228.6 72.82C235.4 72.82 235.4 71.24 242.1 71.24C248.9 71.24 248.9 68.19 255.7 68.19C262.4 68.19 262.4 69.72 269.2 69.72C275.9 69.72 275.9 70.60 282.7 70.60C289.5 70.60 289.5 70.25 296.2 70.25C303.0 70.25 303.0 70.91 309.7 70.91C316.5 70.91 316.5 70.97 323.2 70.97C330.0 70.97 330.0 70.75 336.8 70.75C343.5 70.75 343.5 70.67 350.3 70.67C357.0 70.67 357.0 70.43 363.8 70.43C370.6 70.43 370.6 70.86 377.3 70.86C384.1 70.86 384.1 72.00 390.8 72.00C397.6 72.00 397.6 70.86 404.3 70.86C411.1 70.86 411.1 70.31 417.9 70.31C424.6 70.31 424.6 68.69 431.4 68.69C438.1 68.69 438.1 69.08 444.9 69.08C451.7 69.08 451.7 68.75 458.4 68.75C465.2 68.75 465.2 69.88 471.9 69.88C478.7 69.88 478.7 72.20 485.4 72.20C492.2 72.20 492.2 72.65 499.0 72.65C505.7 72.65 505.7 72.71 512.5 72.71C519.2 72.71 519.2 70.20 526.0 70.20C532.8 70.20 532.8 70.66 539.5 70.66C546.3 70.66 546.3 70.80 553.0 70.80C559.8 70.80 559.8 71.29 566.5 71.29C573.3 71.29 573.3 70.97 580.1 70.97C586.8 70.97 586.8 70.57 593.6 70.57C600.3 70.57 600.3 70.93 607.1 70.93C613.9 70.93 613.9 70.58 620.6 70.58C627.4 70.58 627.4 69.57 634.1 69.57C640.9 69.57 640.9 70.77 647.6 70.77C654.4 70.77 654.4 70.67 661.2 70.67C667.9 70.67 667.9 71.49 674.7 71.49C681.4 71.49 681.4 70.98 688.2 70.98C695.0 70.98 695.0 71.56 701.7 71.56C708.5 71.56 708.5 69.97 715.2 69.97C722.0 69.97 722.0 70.14 728.8 70.14C735.5 70.14 735.5 70.98 742.3 70.98C749.0 70.98 749.0 72.75 755.8 72.75C762.5 72.75 762.5 71.95 769.3 71.95C776.1 71.95 776.1 71.19 782.8 71.19C789.6 71.19 789.6 70.89 796.3 70.89C803.1 70.89 803.1 71.36 809.9 71.36C816.6 71.36 816.6 71.40 823.4 71.40C830.1 71.40 830.1 72.31 836.9 72.31C843.6 72.31 843.6 71.45 850.4 71.45C857.2 71.45 857.2 71.23 863.9 71.23" stroke="#bfef45"/>
<path d="M12.4 70.62C19.1 70.62 19.1 70.21 25.9 70.21C32.6 70.21 32.6 69.78 39.4 69.78C46.2 69.78 46.2 69.81 52.9 69.81C59.7 69.81 59.7 69.32 66.4 69.32C73.2 69.32 73.2 68.71 79.9 68.71C86.7 68.71 86.7 70.43 93.5 70.43C100.2 70.43 100.2 71.03 107.0 71.03C113.7 71.03 113.7 70.18 120.5 70.18C127.3 70.18 127.3 69.48 134.0 69.48C140.8 69.48 140.8 70.03 147.5 70.03C154.3 70.03 154.3 72.78 161.0 72.78C167.8 72.78 167.8 73.63 174.6 73.63C181.3 73.63 181.3 71.99 188.1 71.99C194.8 71.99 194.8 69.95 201.6 69.95C208.4 69.95 208.4 70.86 215.1 70.86C221.9 70.86 221.9 71.92 228.6 71.92C235.4 71.92 235.4 71.49 242.1 71.49C248.9 71.49 248.9 69.55 255.7 69.55C262.4 69.55 262.4 70.79 269.2 70.79C275.9 70.79 275.9 71.50 282.7 71.50C289.5 71.50 289.5 70.77 296.2 70.77C303.0 70.77 303.0 69.41 309.7 69.41C316.5 69.41 316.5 70.17 323.2 70.17C330.0 70.17 330.0 71.13 336.8 71.13C343.5 71.13 343.5 71.23 350.3 71.23C357.0 71.23 357.0 72.38 363.8 72.38C370.6 72.38 370.6 72.18 377.3 72.18C384.1 72.18 384.1 71.34 390.8 71.34C397.6 71.34 397.6 69.13 404.3 69.13C411.1 69.13 411.1 69.84 417.9 69.84C424.6 69.84 424.6 70.14 431.4 70.14C438.1 70.14 438.1 71.46 444.9 71.46C451.7 71.46 451.7 71.38 458.4 71.38C465.2 71.38 465.2 71.75 471.9 71.75C478.7 71.75 478.7 72.13 485.4 72.13C492.2 72.13 492.2 71.28 499.0 71.28C505.7 71.28 505.7 71.25 512.5 71.25C519.2 71.25 519.2 71.20 526.0 71.20C532.8 71.20 532.8 72.05 539.5 72.05C546.3 72.05 546.3 70.54 553.0 70.54C559.8 70.54 559.8 70.53 566.5 70.53C573.3 70.53 573.3 71.58 580.1 71.58C586.8 71.58 586.8 70.91 593.6 70.91C600.3 70.91 600.3 69.30 607.1 69.30C613.9 69.30 613.9 69.15 620.6 69.15C627.4 69.15 627.4 69.75 634.1 69.75C640.9 69.75 640.9 72.35 647.6 72.35C654.4 72.35 654.4 71.39 661.2 71.39C667.9 71.39 667.9 72.69 674.7 72.69C681.4 72.69 681.4 72.48 688.2 72.48C695.0 72.48 695.0 73.14 701.7 73.14C708.5 73.14 708.5 72.56 715.2 72.56C722.0 72.56 722.0 72.62 728.8 72.62C735.5 72.62 735.5 70.32 742.3 70.32C749.0 70.32 749.0 70.72 755.8 70.72C762.5 70.72 762.5 70.72 769.3 70.72C776.1 70.72 776.1 72.04 782.8 72.04C789.6 72.04 789.6 72.02 796.3 72.02C803.1 72.02 803.1 70.57 809.9 70.57C816.6 70.57 816.6 70.33 823.4 70.33C830.1 70.33 830.1 71.70 836.9 71.70C843.6 71.70 843.6 72.52 850.4 72.52C857.2 72.52 857.2 72.80 863.9 72.80" stroke="#ffe119"/>
<path d="M12.4 69.91C19.1 69.91 19.1 72.20 25.9 72.20C32.6 72.20 32.6 72.30 39.4 72.30C46.2 72.30 46.2 71.45 52.9 71.45C59.7 71.45 59.7 70.33 66.4 70.33C73.2 70.33 73.2 69.84 79.9 69.84C86.7 69.84 86.7 70.86 93.5 70.86C100.2 70.86 100.2 70.85 107.0 70.85C113.7 70.85 113.7 70.54 120.5 70.54C127.3 70.54 127.3 71.01 134.0 71.01C140.8 71.01 140.8 72.35 147.5 72.35C154.3 72.35 154.3 72.42 161.0 72.42C167.8 72.42 167.8 71.38 174.6 71.38C181.3 71.38 181.3 70.81 188.1 70.81C194.8 70.81 194.8 69.64 201.6 69.64C208.4 69.64 208.4 69.99 215.1 69.99C221.9 69.99 221.9 70.67 228.6 70.67C235.4 70.67 235.4 71.75 242.1 71.75C248.9 71.75 248.9 70.00 255.7 70.00C262.4 70.00 262.4 69.89 269.2 69.89C275.9 69.89 275.9 70.87 282.7 70.87C289.5 70.87 289.5 71.80 296.2 71.80C303.0 71.80 303.0 71.68 309.7 71.68C316.5 71.68 316.5 71.25 323.2 71.25C330.0 71.25 330.0 70.86 336.8 70.86C343.5 70.86 343.5 70.97 350.3 70.97C357.0 70.97 357.0 70.88 363.8 70.88C370.6 70.88 370.6 69.86 377.3 69.86C384.1 69.86 384.1 69.52 390.8 69.52C397.6 69.52 397.6 68.95 404.3 68.95C411.1 68.95 411.1 69.96 417.9 69.96C424.6 69.96 424.6 69.00 431.4 69.00C438.1 69.00 438.1 69.51 444.9 69.51C451.7 69.51 451.7 69.67 458.4 69.67C465.2 69.67 465.2 71.16 471.9 71.16C478.7 71.16 478.7 71.77 485.4 71.77C492.2 71.77 492.2 71.44 499.0 71.44C505.7 71.44 505.7 71.97 512.5 71.97C519.2 71.97 519.2 69.33 526.0 69.33C532.8 69.33 532.8 69.19 539.5 69.19C546.3 69.19 546.3 69.40 553.0 69.40C559.8 69.40 559.8 69.13 566.5 69.13C573.3 69.13 573.3 69.42 580.1 69.42C586.8 69.42 586.8 70.34 593.6 70.34C600.3 70.34 600.3 70.78 607.1 70.78C613.9 70.78 613.9 69.32 620.6 69.32C627.4 69.32 627.4 69.08 634.1 69.08C640.9 69.08 640.9 70.88 647.6 70.88C654.4 70.88 654.4 69.33 661.2 69.33C667.9 69.33 667.9 69.92 674.7 69.92C681.4 69.92 681.4 69.50 688.2 69.50C695.0 69.50 695.0 70.20 701.7 70.20C708.5 70.20 708.5 69.59 715.2 69.59C722.0 69.59 722.0 71.26 728.8 71.26C735.5 71.26 735.5 71.12 742.3 71.12C749.0 71.12 749.0 71.73 755.8 71.73C762.5 71.73 762.5 70.62 769.3 70.62C776.1 70.62 776.1 69.91 782.8 69.91C789.6 69.91 789.6 69.39 796.3 69.39C803.1 69.39 803.1 69.69 809.9 69.69C816.6 69.69 816.6 70.16 823.4 70.16C830.1 70.16 830.1 71.24 836.9 71.24C843.6 71.24 843.6 70.87 850.4 70.87C857.2 70.87 857.2 70.76 863.9 70.76" stroke="#f58231"/>
<path d="M12.4 70.89C19.1 70.89 19.1 71.27 25.9 71.27C32.6 71.27 32.6 70.58 39.4 70.58C46.2 70.58 46.2 70.46 52.9 70.46C59.7 70.46 59.7 71.12 66.4 71.12C73.2 71.12 73.2 70.92 79.9 70.92C86.7 70.92 86.7 70.95 93.5 70.95C100.2 70.95 100.2 70.40 107.0 70.40C113.7 70.40 113.7 70.08 120.5 70.08C127.3 70.08 127.3 70.50 134.0 70.50C140.8 70.50 140.8 71.13 147.5 71.13C154.3 71.13 154.3 72.98 161.0 72.98C167.8 72.98 167.8 73.39 174.6 73.39C181.3 73.39 181.3 71.15 188.1 71.15C194.8 71.15 194.8 69.27 201.6 69.27C208.4 69.27 208.4 69.99 215.1 69.99C221.9 69.99 221.9 70.09 228.6 70.09C235.4 70.09 235.4 71.58 242.1 71.58C248.9 71.58 248.9 70.78 255.7 70.78C262.4 70.78 262.4 70.54 269.2 70.54C275.9 70.54 275.9 69.05 282.7 69.05C289.5 69.05 289.5 69.80 296.2 69.80C303.0 69.80 303.0 71.73 309.7 71.73C316.5 71.73 316.5 72.22 323.2 72.22C330.0 72.22 330.0 72.43 336.8 72.43C343.5 72.43 343.5 72.61 350.3 72.61C357.0 72.61 357.0 71.92 363.8 71.92C370.6 71.92 370.6 70.50 377.3 70.50C384.1 70.50 384.1 70.62 390.8 70.62C397.6 70.62 397.6 70.17 404.3 70.17C411.1 70.17 411.1 70.58 417.9 70.58C424.6 70.58 424.6 70.01 431.4 70.01C438.1 70.01 438.1 70.79 444.9 70.79C451.7 70.79 451.7 69.07 458.4 69.07C465.2 69.07 465.2 69.68 471.9 69.68C478.7 69.68 478.7 72.01 485.4 72.01C492.2 72.01 492.2 72.20 499.0 72.20C505.7 72.20 505.7 73.05 512.5 73.05C519.2 73.05 519.2 72.15 526.0 72.15C532.8 72.15 532.8 71.25 539.5 71.25C546.3 71.25 546.3 70.47 553.0 70.47C559.8 70.47 559.8 72.39 566.5 72.39C573.3 72.39 573.3 72.82 580.1 72.82C586.8 72.82 586.8 70.66 593.6 70.66C600.3 70.66 600.3 69.61 607.1 69.61C613.9 69.61 613.9 70.19 620.6 70.19C627.4 70.19 627.4 70.44 634.1 70.44C640.9 70.44 640.9 73.05 647.6 73.05C654.4 73.05 654.4 71.96 661.2 71.96C667.9 71.96 667.9 71.67 674.7 71.67C681.4 71.67 681.4 70.75 688.2 70.75C695.0 70.75 695.0 70.79 701.7 70.79C708.5 70.79 708.5 70.16 715.2 70.16C722.0 70.16 722.0 72.00 728.8 72.00C735.5 72.00 735.5 71.91 742.3 71.91C749.0 71.91 749.0 70.91 755.8 70.91C762.5 70.91 762.5 71.51 769.3 71.51C776.1 71.51 776.1 73.04 782.8 73.04C789.6 73.04 789.6 72.38 796.3 72.38C803.1 72.38 803.1 72.46 809.9 72.46C816.6 72.46 816.6 71.96 823.4 71.96C830.1 71.96 830.1 72.22 836.9 72.22C843.6 72.22 843.6 71.14 850.4 71.14C857.2 71.14 857.2 70.11 863.9 70.11" stroke="#e6194b"/>
</g>
<line x1="34" y1="264.5" x2="844" y2="264.5" stroke="#e7a3b8" stroke-width="1"/>
<line x1="34" y1="265.5" x2="844" y2="265.5" stroke="#b65878" stroke-width="1"/>
<line x1="34" y1="266.5" x2="844" y2="266.5" stroke="#e9c5d0" stroke-opacity=".6" stroke-width="1"/>
<g class="l" clip-path="url(#c3)">
<path d="M12.4 432.71C19.1 432.71 19.1 432.71 25.9 432.71C32.6 432.71 32.6 431.40 39.4 431.40C46.2 431.40 46.2 432.20 52.9 432.20C59.7 432.20 59.7 432.96 66.4 432.96C73.2 432.96 73.2 432.44 79.9 432.44C86.7 432.44 86.7 432.10 93.5 432.10C100.2 432.10 100.2 432.95 107.0 432.95C113.7 432.95 113.7 432.66 120.5 432.66C127.3 432.66 127.3 432.87 134.0 432.87C140.8 432.87 140.8 432.90 147.5 432.90C154.3 432.90 154.3 432.93 161.0 432.93C167.8 432.93 167.8 432.82 174.6 432.82C181.3 432.82 181.3 432.96 188.1 432.96C194.8 432.96 194.8 432.20 201.6 432.20C208.4 432.20 208.4 432.91 215.1 432.91C221.9 432.91 221.9 432.83 228.6 432.83C235.4 432.83 235.4 432.99 242.1 432.99C248.9 432.99 248.9 432.90 255.7 432.90C262.4 432.90 262.4 432.45 269.2 432.45C275.9 432.45 275.9 432.99 282.7 432.99C289.5 432.99 289.5 432.85 296.2 432.85C303.0 432.85 303.0 432.96 309.7 432.96C316.5 432.96 316.5 432.87 323.2 432.87C330.0 432.87 330.0 432.90 336.8 432.90C343.5 432.90 343.5 432.91 350.3 432.91C357.0 432.91 357.0 432.20 363.8 432.20C370.6 432.20 370.6 432.99 377.3 432.99C384.1 432.99 384.1 432.96 390.8 432.96C397.6 432.96 397.6 432.83 404.3 432.83C411.1 432.83 411.1 432.50 417.9 432.50C424.6 432.50 424.6 432.94 431.4 432.94C438.1 432.94 438.1 432.84 444.9 432.84C451.7 432.84 451.7 432.38 458.4 432.38C465.2 432.38 465.2 432.64 471.9 432.64C478.7 432.64 478.7 432.91 485.4 432.91C492.2 432.91 492.2 432.30 499.0 432.30C505.7 432.30 505.7 432.43 512.5 432.43C519.2 432.43 519.2 432.76 526.0 432.76C532.8 432.76 532.8 432.39 539.5 432.39C546.3 432.39 546.3 432.83 553.0 432.83C559.8 432.83 559.8 432.87 566.5 432.87C573.3 432.87 573.3 432.90 580.1 432.90C586.8 432.90 586.8 405.90 593.6 405.90C600.3 405.90 600.3 432.30 607.1 432.30C613.9 432.30 613.9 432.70 620.6 432.70C627.4 432.70 627.4 432.89 634.1 432.89C640.9 432.89 640.9 432.68 647.6 432.68C654.4 432.68 654.4 432.20 661.2 432.20C667.9 432.20 667.9 432.99 674.7 432.99C681.4 432.99 681.4 432.89 688.2 432.89C695.0 432.89 695.0 432.82 701.7 432.82C708.5 432.82 708.5 431.50 715.2 431.50C722.0 431.50 722.0 432.50 728.8 432.50C735.5 432.50 735.5 432.88 742.3 432.88C749.0 432.88 749.0 432.74 755.8 432.74C762.5 432.74 762.5 432.98 769.3 432.98C776.1 432.98 776.1 432.92 782.8 432.92C789.6 432.92 789.6 432.95 796.3 432.95C803.1 432.95 803.1 431.30 809.9 431.30C816.6 431.30 816.6 433.00 823.4 433.00C830.1 433.00 830.1 432.52 836.9 432.52C843.6 432.52 843.6 432.56 850.4 432.56C857.2 432.56 857.2 432.95 863.9 432.95" stroke="#e8452c" stroke-width="1.05" stroke-opacity="1" transform="translate(0,0)"/>
<path d="M12.4 432.78C19.1 432.78 19.1 432.76 25.9 432.76C32.6 432.76 32.6 432.92 39.4 432.92C46.2 432.92 46.2 433.00 52.9 433.00C59.7 433.00 59.7 432.74 66.4 432.74C73.2 432.74 73.2 432.43 79.9 432.43C86.7 432.43 86.7 432.86 93.5 432.86C100.2 432.86 100.2 432.60 107.0 432.60C113.7 432.60 113.7 432.46 120.5 432.46C127.3 432.46 127.3 432.20 134.0 432.20C140.8 432.20 140.8 432.40 147.5 432.40C154.3 432.40 154.3 432.81 161.0 432.81C167.8 432.81 167.8 432.57 174.6 432.57C181.3 432.57 181.3 432.93 188.1 432.93C194.8 432.93 194.8 432.68 201.6 432.68C208.4 432.68 208.4 432.74 215.1 432.74C221.9 432.74 221.9 432.86 228.6 432.86C235.4 432.86 235.4 432.53 242.1 432.53C248.9 432.53 248.9 432.41 255.7 432.41C262.4 432.41 262.4 432.86 269.2 432.86C275.9 432.86 275.9 432.81 282.7 432.81C289.5 432.81 289.5 432.88 296.2 432.88C303.0 432.88 303.0 432.57 309.7 432.57C316.5 432.57 316.5 432.64 323.2 432.64C330.0 432.64 330.0 432.70 336.8 432.70C343.5 432.70 343.5 432.52 350.3 432.52C357.0 432.52 357.0 432.79 363.8 432.79C370.6 432.79 370.6 432.94 377.3 432.94C384.1 432.94 384.1 432.94 390.8 432.94C397.6 432.94 397.6 432.86 404.3 432.86C411.1 432.86 411.1 432.87 417.9 432.87C424.6 432.87 424.6 432.93 431.4 432.93C438.1 432.93 438.1 432.68 444.9 432.68C451.7 432.68 451.7 432.22 458.4 432.22C465.2 432.22 465.2 432.96 471.9 432.96C478.7 432.96 478.7 432.93 485.4 432.93C492.2 432.93 492.2 432.69 499.0 432.69C505.7 432.69 505.7 432.97 512.5 432.97C519.2 432.97 519.2 432.85 526.0 432.85C532.8 432.85 532.8 432.90 539.5 432.90C546.3 432.90 546.3 432.61 553.0 432.61C559.8 432.61 559.8 432.74 566.5 432.74C573.3 432.74 573.3 432.75 580.1 432.75C586.8 432.75 586.8 431.50 593.6 431.50C600.3 431.50 600.3 406.50 607.1 406.50C613.9 406.50 613.9 432.81 620.6 432.81C627.4 432.81 627.4 432.71 634.1 432.71C640.9 432.71 640.9 432.94 647.6 432.94C654.4 432.94 654.4 432.93 661.2 432.93C667.9 432.93 667.9 432.89 674.7 432.89C681.4 432.89 681.4 432.93 688.2 432.93C695.0 432.93 695.0 432.39 701.7 432.39C708.5 432.39 708.5 432.10 715.2 432.10C722.0 432.10 722.0 430.10 728.8 430.10C735.5 430.10 735.5 431.10 742.3 431.10C749.0 431.10 749.0 432.40 755.8 432.40C762.5 432.40 762.5 432.71 769.3 432.71C776.1 432.71 776.1 432.61 782.8 432.61C789.6 432.61 789.6 432.92 796.3 432.92C803.1 432.92 803.1 432.74 809.9 432.74C816.6 432.74 816.6 432.51 823.4 432.51C830.1 432.51 830.1 433.00 836.9 433.00C843.6 433.00 843.6 432.73 850.4 432.73C857.2 432.73 857.2 432.96 863.9 432.96" stroke="#2c70aa" stroke-width="1.05" stroke-opacity="0.78" transform="translate(1.0,0)"/>
</g>
<circle cx="75.5" cy="321.3" r="14.8" fill="#f8f8f8" stroke="#cdcdcd" stroke-width="1"/>
<path d="M75.5 321.3 L75.6 307.6 A13.7 13.7 0 0 1 83.0 309.8 Z" fill="#bb1e51" stroke="#6b0c2e" stroke-width="1.4" stroke-linejoin="round"/>
<circle cx="75.5" cy="321.3" r="3.9" fill="#c2245a" stroke="#6b0c2e" stroke-width="1.7"/>
<circle cx="542.4" cy="321.2" r="15.0" fill="#f8f8f8" stroke="#cdcdcd" stroke-width="1"/>
<circle cx="542.4" cy="321.4" r="3.9" fill="#3c3c3c" stroke="#262626" stroke-width="1.6"/>
<circle cx="542.4" cy="321.4" r="2.9" fill="none" stroke="#8c8c8c" stroke-width=".7"/>
<ellipse cx="75" cy="489" rx="10" ry="2.2" fill="#000" opacity=".13" filter="url(#bl)"/>
<path d="M67.3 462.3 H82.7 V472.8 H88.9 L75 488.5 L61.1 472.8 H67.3 Z" fill="url(#gb)" stroke="#12305a" stroke-width="1" stroke-linejoin="miter"/>
<path d="M68.3 463.3 H81.7 V473.8 H86.6 L75 486.9 L63.4 473.8 H68.3 Z" fill="none" stroke="#8fc0ea" stroke-opacity=".55" stroke-width="1" stroke-linejoin="miter"/>
<ellipse cx="510" cy="489.3" rx="10" ry="2.2" fill="#000" opacity=".13" filter="url(#bl)"/>
<path d="M510 462.1 L523.9 478.1 H517.2 V488.3 H502.3 V478.1 H496.1 Z" fill="url(#gr)" stroke="#8a0d00" stroke-width="1" stroke-linejoin="miter"/>
<path d="M510 463.7 L521.6 477.1 H516.2 V487.3 H503.3 V477.1 H498.4 Z" fill="none" stroke="#ff9a85" stroke-opacity=".55" stroke-width="1" stroke-linejoin="miter"/>
</svg>
</body></html>
